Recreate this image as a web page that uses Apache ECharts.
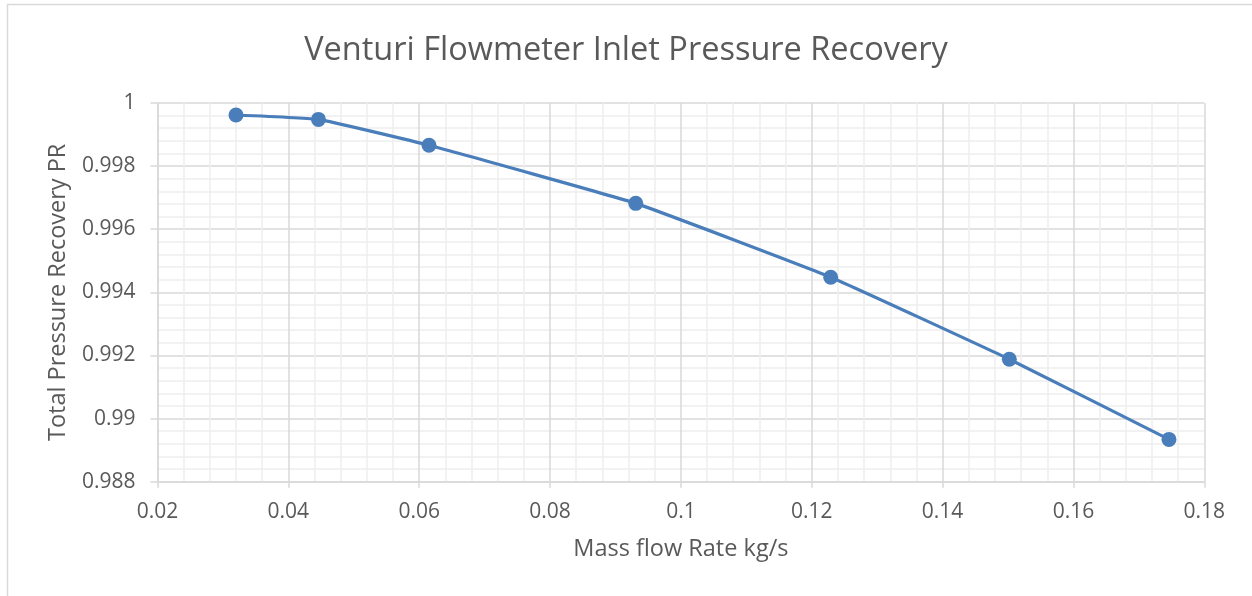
<!DOCTYPE html>
<html>
<head>
<meta charset="utf-8">
<script src="https://cdn.jsdelivr.net/npm/echarts@6/dist/echarts.min.js"></script>
<style>
  html, body { margin: 0; padding: 0; background: #ffffff; }
  #chart { width: 1252px; height: 596px; }
</style>
</head>
<body>
<div id="chart"></div>
<script>
// Mass flow rate (kg/s) and total pressure recovery at each measured point
const massFlow = [0.0320, 0.0446, 0.0615, 0.0931, 0.1229, 0.1502, 0.1746];
const pressureRecovery = [0.99962, 0.99948, 0.99866, 0.99682, 0.99448, 0.99188, 0.98934];

// Axis ranges and tick steps
const xTicks = { min: 0.02, max: 0.18, step: 0.02 };
const yTicks = { min: 0.988, max: 1.0, step: 0.002 };

const titleText = 'Venturi Flowmeter Inlet Pressure Recovery';
const xName = 'Mass flow Rate kg/s';
const yName = 'Total Pressure Recovery PR';

const fontFamily = '"Open Sans", "Liberation Sans", sans-serif';
const textColor = '#595959';
const majorGrid = '#d9d9d9';
const minorGrid = '#eeeeee';

const points = massFlow.map((x, i) => [x, pressureRecovery[i]]);

const chart = echarts.init(document.getElementById('chart'), null, { renderer: 'canvas' });

chart.setOption({
  backgroundColor: '#ffffff',
  animation: false,
  graphic: [{
    type: 'rect',
    shape: { x: 7.5, y: 4.5, width: 1300, height: 700 },
    style: { fill: 'none', stroke: '#d9d9d9', lineWidth: 1.5 },
    silent: true,
    z: -10
  }],
  title: {
    text: titleText,
    left: 'center',
    top: 29,
    textStyle: {
      fontFamily: fontFamily,
      fontSize: 32.5,
      fontWeight: 'normal',
      color: textColor
    }
  },
  grid: {
    left: 157.5,
    right: 47.7,
    top: 103,
    bottom: 114.3,
    containLabel: false
  },
  xAxis: {
    type: 'value',
    min: xTicks.min,
    max: xTicks.max,
    interval: xTicks.step,
    name: xName,
    nameLocation: 'middle',
    nameGap: 56,
    nameTextStyle: { fontFamily: fontFamily, fontSize: 23.5, color: textColor },
    axisLine: { show: true, lineStyle: { color: majorGrid, width: 1.5 } },
    axisTick: { show: true, inside: false, length: 6, lineStyle: { color: majorGrid, width: 1.5 } },
    axisLabel: { margin: 20, fontFamily: fontFamily, fontSize: 21, color: textColor },
    splitLine: { show: true, lineStyle: { color: majorGrid, width: 1.5 } },
    minorTick: { show: false, splitNumber: 5 },
    minorSplitLine: { show: true, lineStyle: { color: minorGrid, width: 1.5 } }
  },
  yAxis: {
    type: 'value',
    min: yTicks.min,
    max: yTicks.max,
    interval: yTicks.step,
    name: yName,
    nameLocation: 'middle',
    nameRotate: 90,
    nameGap: 87,
    nameTextStyle: { fontFamily: fontFamily, fontSize: 23.5, color: textColor },
    axisLine: { show: true, lineStyle: { color: majorGrid, width: 1.5 } },
    axisTick: { show: true, inside: false, length: 7, lineStyle: { color: majorGrid, width: 1.5 } },
    axisLabel: { margin: 22, fontFamily: fontFamily, fontSize: 21, color: textColor },
    splitLine: { show: true, lineStyle: { color: majorGrid, width: 1.5 } },
    minorTick: { show: false, splitNumber: 5 },
    minorSplitLine: { show: true, lineStyle: { color: minorGrid, width: 1.5 } }
  },
  series: [{
    type: 'line',
    data: points,
    smooth: 0.1,
    symbol: 'circle',
    symbolSize: 15,
    lineStyle: { color: '#4a7ebb', width: 3.2 },
    itemStyle: { color: '#4a7ebb' }
  }]
});
</script>
</body>
</html>
